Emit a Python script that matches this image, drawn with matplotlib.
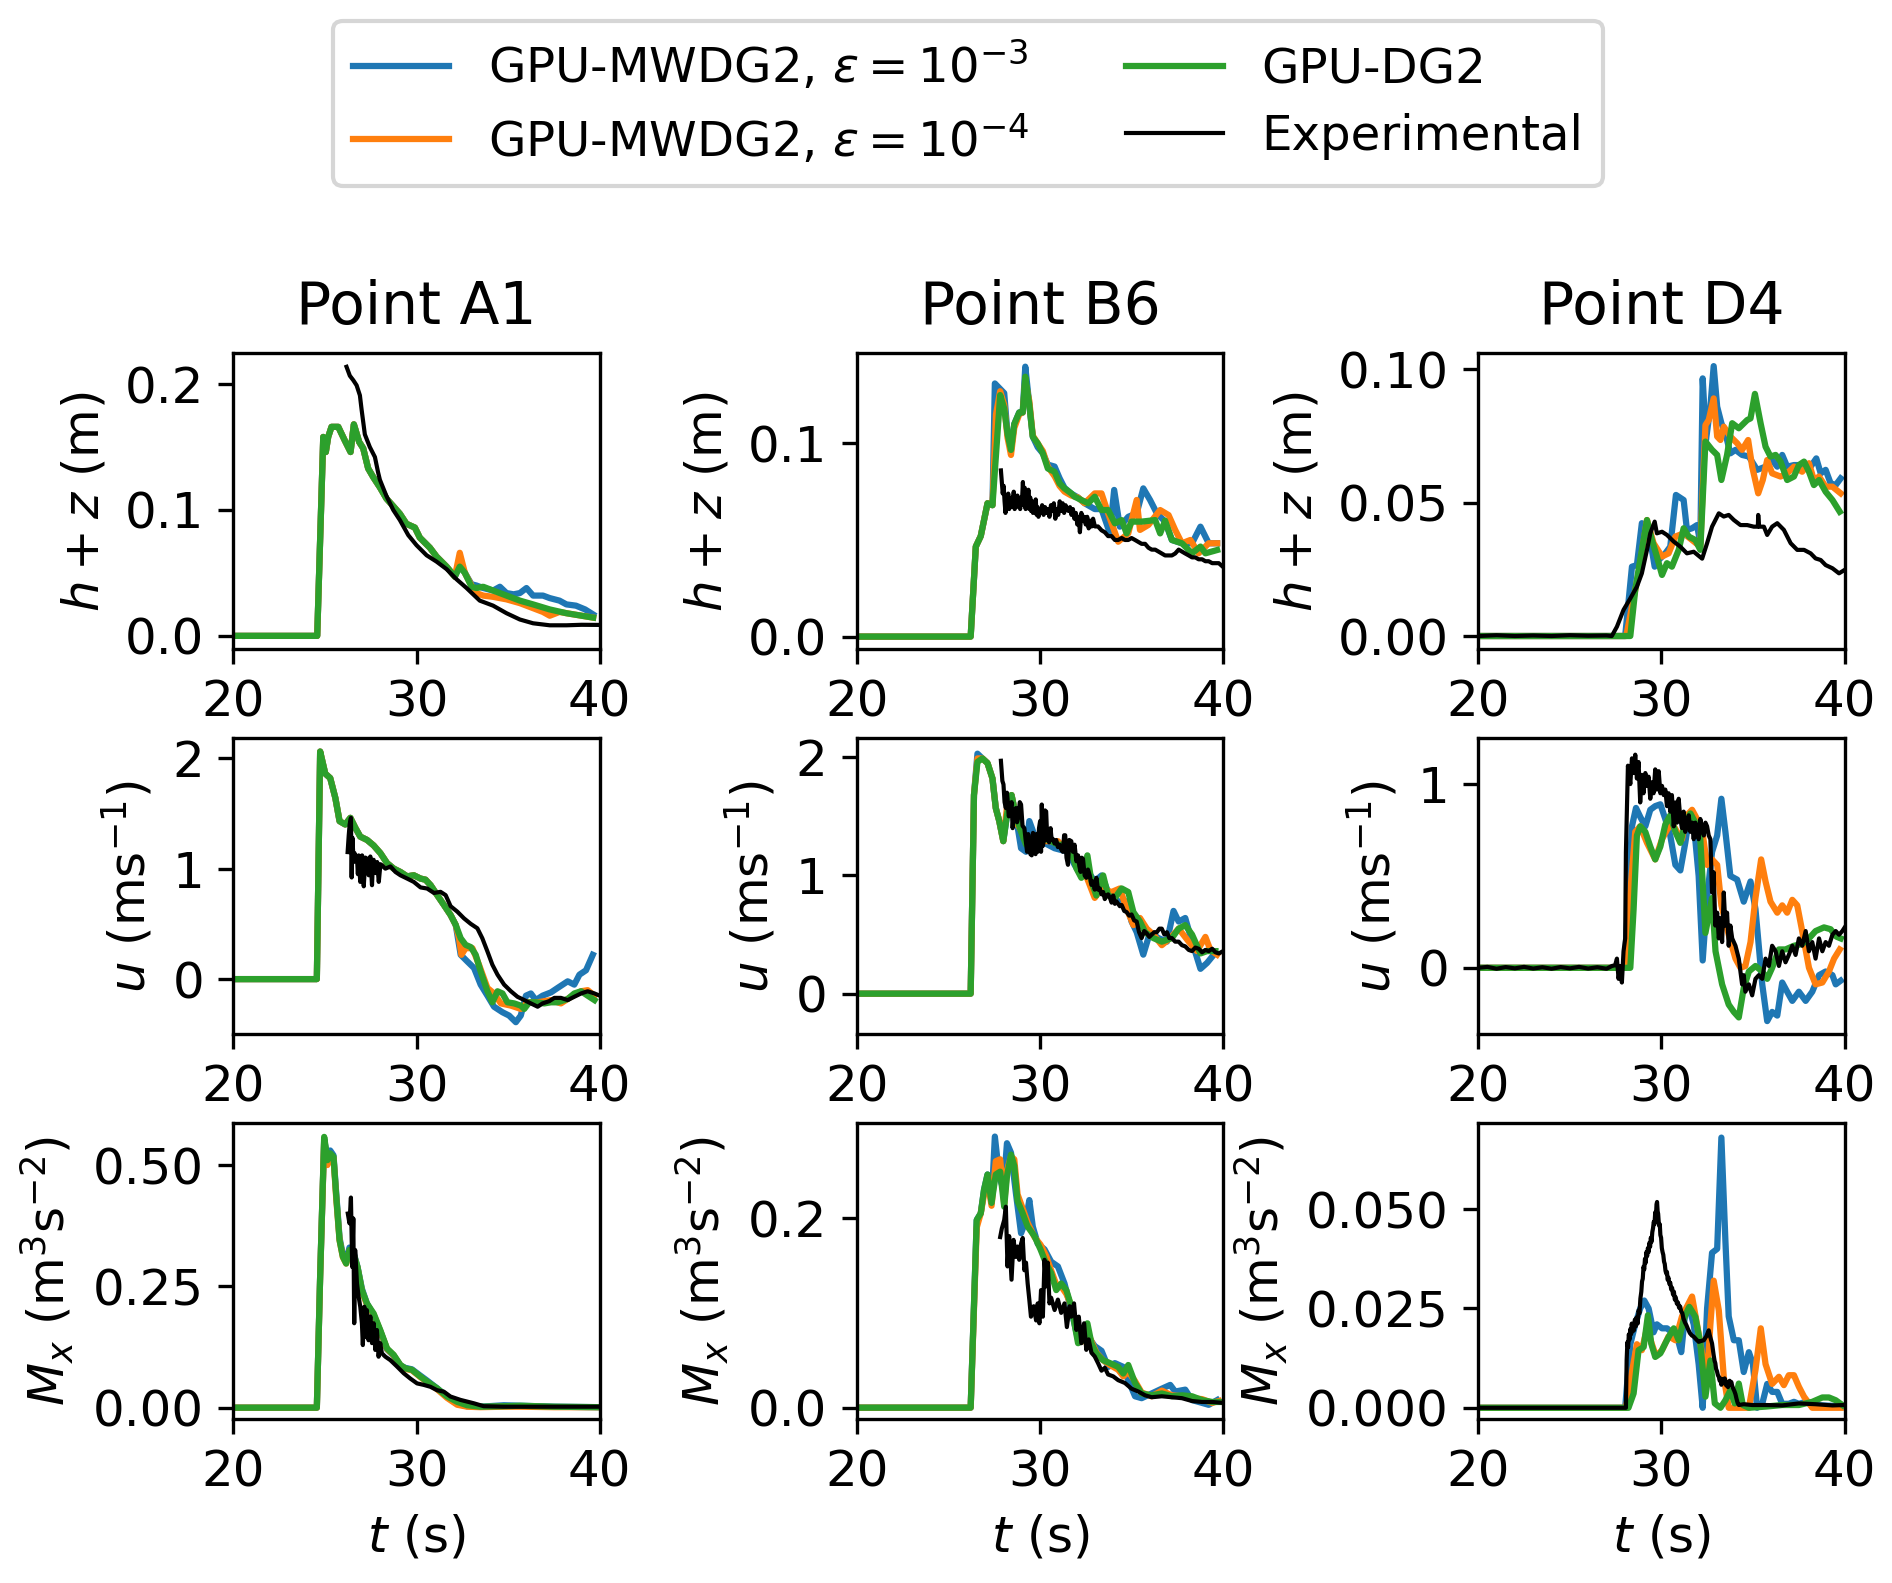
import matplotlib
matplotlib.use("Agg")
import matplotlib.pyplot as plt

plt.rcParams['font.family'] = ['DejaVu Sans']
plt.rcParams['mathtext.fontset'] = 'dejavusans'

C_MW3 = '#1f77b4'
C_MW4 = '#ff7f0e'
C_DG2 = '#2ca02c'
C_EXP = 'black'

LABELS = ['GPU-MWDG2, $\\epsilon = 10^{-3}$', 'GPU-MWDG2, $\\epsilon = 10^{-4}$', 'GPU-DG2', 'Experimental']
TITLES = ['Point A1', 'Point B6', 'Point D4']
YLABELS = ['$h + z$ (m)', '$u$ (ms$^{-1}$)', '$M_x$ (m$^3$s$^{-2}$)']
XLABEL = '$t$ (s)'
XTICKS = [20, 30, 40]

# ---------------- Point A1, h+z ----------------
A1_H_HEAD = [(20, 0), (24.58, 0), (24.91, 0.158), (25.05, 0.146), (25.18, 0.158), (25.36, 0.166), (25.73, 0.166),
             (26.09, 0.155), (26.4, 0.146), (26.58, 0.168), (26.87, 0.154), (27.09, 0.149), (27.36, 0.133),
             (27.64, 0.126), (28.0, 0.118), (28.36, 0.109), (28.73, 0.103), (29.09, 0.097), (29.45, 0.089),
             (29.91, 0.086), (30.18, 0.078), (30.73, 0.070), (31.09, 0.063), (31.64, 0.055), (32.09, 0.047)]
A1_H_MW3 = A1_H_HEAD + [(32.36, 0.057), (32.64, 0.050), (33.0, 0.041), (33.27, 0.040), (33.64, 0.038), (34.18, 0.036),
                        (34.55, 0.039), (34.91, 0.034), (35.3, 0.033), (35.64, 0.034), (36.0, 0.038), (36.36, 0.032),
                        (36.9, 0.032), (37.27, 0.030), (37.8, 0.028), (38.18, 0.025), (38.7, 0.024), (39.2, 0.021),
                        (39.64, 0.017)]
A1_H_MW4 = A1_H_HEAD + [(32.36, 0.066), (32.64, 0.050), (33.0, 0.040), (33.27, 0.034), (33.64, 0.032), (34.18, 0.031),
                        (34.91, 0.029), (35.64, 0.026), (36.36, 0.022), (36.9, 0.019), (37.27, 0.016), (37.8, 0.019),
                        (38.18, 0.018), (39.64, 0.0145)]
A1_H_DG2 = A1_H_HEAD + [(32.36, 0.055), (32.64, 0.050), (33.0, 0.039), (33.27, 0.038), (33.64, 0.039), (34.18, 0.036),
                        (34.91, 0.032), (35.64, 0.028), (36.36, 0.025), (37.27, 0.021), (38.18, 0.018), (39.64, 0.0145)]
A1_H_EXP = [(26.18, 0.2137), (26.36, 0.2066), (26.55, 0.203), (26.73, 0.199), (26.91, 0.191), (27.0, 0.18),
            (27.18, 0.16), (27.45, 0.150), (27.73, 0.142), (27.9, 0.13), (28.0, 0.124), (28.36, 0.111), (28.73, 0.100),
            (29.09, 0.092), (29.55, 0.080), (30.0, 0.072), (30.55, 0.064), (31.09, 0.059), (31.64, 0.053),
            (32.18, 0.045), (32.73, 0.038), (33.45, 0.028), (34.18, 0.024), (34.91, 0.018), (35.64, 0.013),
            (36.36, 0.010), (37.27, 0.0084), (38.18, 0.0084), (39.0, 0.0088), (40.0, 0.0087)]

# ---------------- Point B6, h+z ----------------
B6_H_HEAD = [(20, 0), (26.22, 0), (26.5, 0.0466), (26.77, 0.052), (27.14, 0.069), (27.41, 0.068)]
B6_H_MW3 = B6_H_HEAD + [(27.54, 0.131), (28.05, 0.126), (28.23, 0.105), (28.42, 0.0966), (28.6, 0.110), (28.87, 0.116),
                        (29.06, 0.116), (29.2, 0.1397), (29.42, 0.120), (29.61, 0.1034), (29.88, 0.098),
                        (30.16, 0.0948), (30.43, 0.089), (30.8, 0.088), (31.07, 0.082), (31.34, 0.077), (31.71, 0.074),
                        (32.08, 0.072), (32.44, 0.069), (32.99, 0.066), (33.36, 0.066), (33.82, 0.0534),
                        (34.05, 0.0759), (34.36, 0.0569), (34.82, 0.062), (35.28, 0.0638), (35.64, 0.0767),
                        (36.01, 0.0707), (36.38, 0.0638), (36.83, 0.0595), (37.2, 0.050), (37.75, 0.0483),
                        (38.3, 0.0483), (38.76, 0.0569), (39.21, 0.0483), (39.67, 0.0483)]
B6_H_MW4 = B6_H_HEAD + [(27.6, 0.115), (27.83, 0.127), (28.05, 0.12), (28.23, 0.103), (28.42, 0.094), (28.6, 0.108),
                        (28.87, 0.115), (29.06, 0.116), (29.2, 0.132), (29.42, 0.122), (29.61, 0.104), (29.88, 0.1),
                        (30.16, 0.096), (30.43, 0.088), (30.8, 0.083), (31.07, 0.078), (31.34, 0.075), (31.71, 0.073),
                        (32.08, 0.072), (32.44, 0.069), (32.99, 0.0741), (33.36, 0.0741), (33.72, 0.0638),
                        (34.27, 0.0491), (34.82, 0.0534), (35.28, 0.0707), (35.46, 0.0552), (35.92, 0.0578),
                        (36.56, 0.0655), (37.02, 0.0629), (37.38, 0.0552), (37.75, 0.0483), (38.21, 0.050),
                        (38.66, 0.0431), (39.21, 0.0483), (39.67, 0.0483)]
B6_H_DG2 = B6_H_HEAD + [(27.83, 0.125), (28.05, 0.118), (28.23, 0.105), (28.42, 0.0966), (28.6, 0.110), (28.87, 0.116),
                        (29.06, 0.116), (29.2, 0.1345), (29.42, 0.120), (29.61, 0.1034), (29.88, 0.1), (30.16, 0.0948),
                        (30.43, 0.087), (30.8, 0.0853), (31.07, 0.0793), (31.34, 0.0767), (31.71, 0.0741),
                        (31.89, 0.0724), (32.26, 0.0707), (32.63, 0.0690), (32.99, 0.0724), (33.36, 0.0655),
                        (33.72, 0.0655), (34.09, 0.0586), (34.46, 0.0603), (34.73, 0.0534), (35.0, 0.0595),
                        (35.55, 0.0595), (36.29, 0.0603), (36.56, 0.0534), (36.83, 0.060), (37.2, 0.050),
                        (37.75, 0.0483), (38.3, 0.0431), (38.76, 0.0466), (39.03, 0.0431), (39.67, 0.0448)]
B6_H_EXP = [(27.87, 0.086), (27.92, 0.080), (27.97, 0.074), (28.02, 0.078), (28.07, 0.070), (28.12, 0.064),
            (28.17, 0.072), (28.22, 0.068), (28.27, 0.074), (28.32, 0.066), (28.37, 0.070), (28.42, 0.067),
            (28.47, 0.072), (28.52, 0.069), (28.57, 0.075), (28.62, 0.066), (28.67, 0.071), (28.72, 0.067),
            (28.77, 0.073), (28.82, 0.068), (28.87, 0.070), (28.92, 0.066), (28.97, 0.072), (29.02, 0.070),
            (29.07, 0.080), (29.12, 0.068), (29.17, 0.077), (29.22, 0.066), (29.27, 0.074), (29.32, 0.068),
            (29.37, 0.076), (29.42, 0.066), (29.47, 0.072), (29.52, 0.065), (29.57, 0.070), (29.62, 0.064),
            (29.67, 0.068), (29.72, 0.066), (29.77, 0.071), (29.82, 0.063), (29.87, 0.067), (29.92, 0.062),
            (29.97, 0.066), (30.05, 0.064), (30.12, 0.068), (30.2, 0.063), (30.28, 0.067), (30.36, 0.064),
            (30.44, 0.066), (30.52, 0.062), (30.6, 0.068), (30.68, 0.065), (30.76, 0.069), (30.84, 0.061),
            (30.92, 0.066), (31.0, 0.063), (31.08, 0.070), (31.16, 0.065), (31.24, 0.069), (31.32, 0.064),
            (31.4, 0.068), (31.48, 0.066), (31.56, 0.065), (31.64, 0.067), (31.72, 0.063), (31.8, 0.066),
            (31.88, 0.061), (31.96, 0.064), (32.04, 0.058), (32.12, 0.062), (32.18, 0.054), (32.26, 0.064),
            (32.34, 0.060), (32.42, 0.062), (32.5, 0.058), (32.58, 0.062), (32.66, 0.056), (32.74, 0.060),
            (32.82, 0.057), (32.9, 0.061), (33.0, 0.057), (33.17, 0.057), (33.36, 0.055), (33.54, 0.054),
            (33.72, 0.052), (33.91, 0.052), (34.09, 0.050), (34.27, 0.050), (34.46, 0.051), (34.64, 0.050),
            (34.82, 0.050), (35.0, 0.051), (35.19, 0.050), (35.37, 0.049), (35.55, 0.048), (35.74, 0.048),
            (35.92, 0.046), (36.1, 0.045), (36.29, 0.045), (36.47, 0.044), (36.65, 0.043), (36.83, 0.042),
            (37.02, 0.042), (37.2, 0.042), (37.38, 0.043), (37.57, 0.045), (37.75, 0.044), (37.93, 0.043),
            (38.12, 0.042), (38.3, 0.041), (38.48, 0.041), (38.66, 0.040), (38.85, 0.040), (39.03, 0.039),
            (39.21, 0.039), (39.4, 0.038), (39.58, 0.038), (39.76, 0.038), (40.0, 0.036)]

# ---------------- Point D4, h+z ----------------
D4_H_MW3 = [(20, 0), (28.02, 0), (28.39, 0.026), (28.66, 0.0266), (28.93, 0.0423), (29.12, 0.041), (29.39, 0.036),
            (29.63, 0.026), (29.85, 0.0285), (30.21, 0.031), (30.48, 0.0335), (30.79, 0.0529), (31.21, 0.051),
            (31.39, 0.0398), (31.67, 0.0404), (31.94, 0.0416), (32.12, 0.0348), (32.25, 0.0966), (32.43, 0.0735),
            (32.67, 0.086), (32.85, 0.1012), (33.04, 0.086), (33.27, 0.0798), (33.49, 0.076), (33.76, 0.0685),
            (34.04, 0.0698), (34.4, 0.0679), (34.77, 0.0673), (35.22, 0.0623), (35.68, 0.0635), (36.04, 0.066),
            (36.32, 0.0635), (36.59, 0.0679), (36.86, 0.0635), (37.23, 0.0641), (37.68, 0.0641), (38.14, 0.0635),
            (38.45, 0.0666), (38.69, 0.061), (38.96, 0.0623), (39.23, 0.0573), (39.51, 0.0566), (39.78, 0.0591)]
D4_H_MW4 = [(20, 0), (28.08, 0), (28.39, 0.011), (28.75, 0.0235), (29.21, 0.0435), (29.57, 0.0348), (30.03, 0.0298),
            (30.39, 0.031), (30.76, 0.0373), (31.21, 0.0385), (31.67, 0.036), (32.12, 0.0335), (32.4, 0.0791),
            (32.58, 0.081), (32.85, 0.0891), (33.04, 0.0748), (33.22, 0.0735), (33.4, 0.0785), (33.76, 0.0748),
            (34.13, 0.0723), (34.4, 0.0698), (34.73, 0.0735), (34.95, 0.0635), (35.28, 0.0535), (35.53, 0.0585),
            (35.77, 0.066), (36.04, 0.061), (36.5, 0.0598), (36.86, 0.061), (37.23, 0.0635), (37.68, 0.0616),
            (38.05, 0.0648), (38.32, 0.0585), (38.6, 0.0598), (38.96, 0.056), (39.33, 0.056), (39.78, 0.0535)]
D4_H_DG2 = [(20, 0), (28.3, 0), (28.57, 0.0173), (28.9, 0.031), (29.21, 0.0435), (29.48, 0.036), (29.75, 0.0298),
            (30.03, 0.0229), (30.3, 0.0273), (30.57, 0.026), (30.94, 0.0323), (31.21, 0.0404), (31.49, 0.0373),
            (31.85, 0.036), (32.12, 0.0323), (32.4, 0.0729), (32.76, 0.0698), (33.04, 0.0679), (33.27, 0.0585),
            (33.58, 0.0679), (33.86, 0.0798), (34.22, 0.0779), (34.68, 0.081), (34.86, 0.0816), (35.1, 0.0908),
            (35.41, 0.0798), (35.68, 0.071), (35.95, 0.0673), (36.23, 0.0679), (36.5, 0.0654), (36.86, 0.0585),
            (37.23, 0.0598), (37.5, 0.0641), (37.78, 0.0654), (38.05, 0.0616), (38.32, 0.0566), (38.6, 0.0585),
            (38.96, 0.0541), (39.33, 0.051), (39.73, 0.0466)]
D4_H_EXP = [(20, 0), (21, 0.0003), (22, 0), (23, 0.0002), (24, 0), (25, 0.0003), (26, 0.0001), (27, 0.0002),
            (27.29, 0), (27.57, 0.0035), (27.93, 0.0098), (28.3, 0.0141), (28.66, 0.0185), (28.93, 0.0235),
            (29.21, 0.0323), (29.39, 0.0385), (29.63, 0.0429), (29.75, 0.0385), (30.03, 0.0391), (30.3, 0.0379),
            (30.67, 0.0354), (31.03, 0.0335), (31.39, 0.031), (31.76, 0.0316), (32.22, 0.029), (32.49, 0.0348),
            (32.76, 0.041), (33.13, 0.046), (33.4, 0.0448), (33.67, 0.0454), (33.95, 0.0435), (34.31, 0.0416),
            (34.68, 0.0416), (35.04, 0.041), (35.26, 0.041), (35.28, 0.0454), (35.33, 0.041), (35.59, 0.041),
            (35.77, 0.0379), (36.04, 0.041), (36.32, 0.0423), (36.68, 0.0398), (37.05, 0.0348), (37.41, 0.0323),
            (37.78, 0.0323), (38.14, 0.031), (38.41, 0.0291), (38.69, 0.0285), (38.96, 0.0266), (39.33, 0.0254),
            (39.69, 0.0235), (40.0, 0.0248)]

# ---------------- Point A1, u ----------------
A1_U_HEAD = [(20, 0), (24.56, 0), (24.74, 2.06), (25.02, 1.86), (25.29, 1.82), (25.57, 1.64), (25.8, 1.43),
             (26.11, 1.40), (26.39, 1.46), (26.66, 1.37), (26.93, 1.29), (27.3, 1.26), (27.66, 1.21), (28.03, 1.14),
             (28.39, 1.05), (28.76, 1.0), (29.12, 0.97), (29.49, 0.93), (29.85, 0.94), (30.22, 0.91), (30.49, 0.90),
             (30.77, 0.85), (31.13, 0.76), (31.5, 0.67), (31.86, 0.58), (32.14, 0.49)]
A1_U_MW3 = A1_U_HEAD + [(32.41, 0.22), (32.77, 0.16), (33.14, 0.10), (33.5, -0.05), (33.87, -0.15), (34.23, -0.25),
                        (34.69, -0.30), (35.05, -0.33), (35.42, -0.39), (35.69, -0.33), (35.97, -0.15), (36.24, -0.13),
                        (36.51, -0.19), (36.88, -0.15), (37.34, -0.12), (37.7, -0.08), (38.25, -0.02), (38.61, -0.05),
                        (38.89, 0.04), (39.25, 0.08), (39.62, 0.22)]
A1_U_MW4 = A1_U_HEAD + [(32.32, 0.37), (32.45, 0.22), (32.68, 0.28), (33.05, 0.28), (33.41, 0.13), (33.87, -0.08),
                        (34.23, -0.13), (34.6, -0.22), (35.15, -0.24), (35.69, -0.27), (36.06, -0.21), (36.61, -0.21),
                        (37.34, -0.19), (37.88, -0.22), (38.43, -0.16), (38.98, -0.11), (39.34, -0.10), (39.71, -0.15)]
A1_U_DG2 = A1_U_HEAD + [(32.41, 0.37), (32.68, 0.31), (32.96, 0.29), (33.23, 0.22), (33.5, 0.07), (33.87, -0.11),
                        (34.14, -0.21), (34.42, -0.11), (34.69, -0.13), (34.96, -0.21), (35.33, -0.22), (35.69, -0.24),
                        (35.88, -0.27), (36.15, -0.21), (36.51, -0.21), (36.97, -0.22), (37.34, -0.21), (37.7, -0.21),
                        (38.25, -0.18), (38.61, -0.13), (38.98, -0.11), (39.34, -0.15), (39.71, -0.19)]
A1_U_EXP = [(26.24, 1.15), (26.3, 1.30), (26.35, 1.40), (26.42, 1.46), (26.46, 0.92), (26.5, 1.28), (26.57, 1.06),
            (26.62, 1.14), (26.66, 1.08), (26.75, 1.10), (26.8, 0.95), (26.84, 1.12), (26.93, 0.88), (26.98, 1.08),
            (27.03, 1.12), (27.08, 0.98), (27.12, 0.84), (27.21, 1.10), (27.3, 1.09), (27.39, 0.94), (27.44, 1.06),
            (27.48, 1.11), (27.57, 0.85), (27.62, 1.05), (27.66, 1.08), (27.76, 0.96), (27.85, 1.06), (27.94, 0.88),
            (28.03, 1.04), (28.12, 1.03), (28.3, 1.0), (28.58, 1.02), (28.85, 0.97), (29.12, 0.94), (29.49, 0.91),
            (29.85, 0.88), (30.22, 0.83), (30.58, 0.82), (30.95, 0.78), (31.31, 0.79), (31.59, 0.76), (31.86, 0.66),
            (32.23, 0.61), (32.59, 0.55), (32.96, 0.50), (33.32, 0.46), (33.59, 0.37), (33.87, 0.25), (34.14, 0.13),
            (34.42, 0.04), (34.78, -0.05), (35.15, -0.11), (35.51, -0.16), (35.88, -0.19), (36.24, -0.22),
            (36.61, -0.25), (36.88, -0.22), (37.24, -0.20), (37.52, -0.17), (37.88, -0.17), (38.25, -0.19),
            (38.61, -0.16), (38.98, -0.13), (39.34, -0.11), (39.71, -0.13), (40.0, -0.15)]

# ---------------- Point B6, u ----------------
B6_U_HEAD = [(20, 0), (26.22, 0), (26.4, 1.68)]
B6_U_MW3 = B6_U_HEAD + [(26.59, 2.03), (26.86, 1.99), (27.14, 1.95), (27.41, 1.82), (27.59, 1.57), (27.78, 1.46),
                        (28.0, 1.29), (28.23, 1.54), (28.45, 1.68), (28.69, 1.50), (28.97, 1.23), (29.24, 1.20),
                        (29.42, 1.46), (29.7, 1.34), (30.06, 1.29), (30.8, 1.23), (31.53, 1.20), (31.89, 1.09),
                        (32.26, 1.0), (32.63, 1.03), (32.99, 0.95), (33.36, 1.0), (33.72, 0.86), (34.27, 0.78),
                        (34.73, 0.78), (35.0, 0.61), (35.28, 0.52), (35.64, 0.33), (36.01, 0.52), (36.47, 0.47),
                        (36.93, 0.44), (37.29, 0.70), (37.57, 0.61), (37.93, 0.64), (38.3, 0.44), (38.76, 0.21),
                        (39.12, 0.26), (39.49, 0.33)]
B6_U_MW4 = B6_U_HEAD + [(26.59, 1.99), (26.86, 1.99), (27.14, 1.95), (27.41, 1.82), (27.59, 1.57), (27.78, 1.46),
                        (28.0, 1.29), (28.23, 1.62), (28.45, 1.68), (28.78, 1.43), (29.33, 1.29), (30.06, 1.29),
                        (30.98, 1.29), (31.89, 1.14), (32.44, 1.03), (32.99, 0.81), (33.36, 0.89), (33.91, 0.86),
                        (34.36, 0.89), (34.73, 0.72), (35.1, 0.58), (35.46, 0.64), (35.83, 0.55), (36.19, 0.50),
                        (36.65, 0.41), (37.11, 0.47), (37.57, 0.55), (38.12, 0.44), (38.57, 0.36), (39.03, 0.48),
                        (39.3, 0.37), (39.67, 0.33)]
B6_U_DG2 = B6_U_HEAD + [(26.59, 1.96), (26.86, 1.99), (27.14, 1.95), (27.41, 1.82), (27.59, 1.57), (27.78, 1.46),
                        (28.0, 1.29), (28.23, 1.54), (28.45, 1.68), (28.69, 1.50), (28.97, 1.37), (29.24, 1.26),
                        (29.51, 1.31), (29.88, 1.26), (30.25, 1.31), (30.61, 1.29), (30.98, 1.26), (31.34, 1.26),
                        (31.71, 1.20), (31.99, 1.06), (32.26, 0.98), (32.59, 1.17), (32.81, 0.95), (33.08, 0.83),
                        (33.45, 1.0), (33.72, 0.83), (34.09, 0.81), (34.46, 0.89), (34.82, 0.86), (35.1, 0.69),
                        (35.46, 0.61), (35.74, 0.52), (36.19, 0.47), (36.65, 0.44), (37.2, 0.47), (37.57, 0.55),
                        (37.93, 0.58), (38.3, 0.50), (38.76, 0.34), (39.12, 0.36), (39.58, 0.36)]
B6_U_EXP = [(27.87, 1.97), (27.95, 1.80), (28.01, 1.77), (28.07, 1.62), (28.14, 1.57), (28.2, 1.70), (28.23, 1.65),
            (28.3, 1.50), (28.38, 1.54), (28.45, 1.62), (28.51, 1.40), (28.58, 1.55), (28.69, 1.57), (28.75, 1.45),
            (28.82, 1.49), (28.9, 1.62), (28.97, 1.60), (29.05, 1.42), (29.15, 1.40), (29.22, 1.30), (29.3, 1.20),
            (29.36, 1.35), (29.42, 1.26), (29.48, 1.18), (29.55, 1.17), (29.62, 1.36), (29.7, 1.34), (29.76, 1.18),
            (29.82, 1.35), (29.88, 1.20), (29.95, 1.40), (30.01, 1.46), (30.06, 1.20), (30.1, 1.60), (30.16, 1.25),
            (30.21, 1.29), (30.28, 1.55), (30.34, 1.54), (30.4, 1.30), (30.43, 1.34), (30.5, 1.28), (30.58, 1.40),
            (30.64, 1.30), (30.7, 1.31), (30.8, 1.27), (30.89, 1.30), (30.98, 1.24), (31.07, 1.26), (31.16, 1.22),
            (31.25, 1.20), (31.32, 1.34), (31.38, 1.34), (31.45, 1.15), (31.53, 1.09), (31.6, 1.30), (31.71, 1.29),
            (31.8, 1.20), (31.89, 1.26), (31.99, 1.12), (32.08, 1.17), (32.15, 1.08), (32.22, 1.03), (32.28, 1.15),
            (32.35, 1.14), (32.44, 1.0), (32.53, 0.98), (32.62, 1.05), (32.72, 1.0), (32.81, 0.92), (32.9, 0.95),
            (32.99, 0.88), (33.08, 0.98), (33.17, 0.88), (33.27, 0.89), (33.36, 0.84), (33.45, 0.86), (33.54, 0.80),
            (33.63, 0.83), (33.72, 0.84), (33.82, 0.81), (33.91, 0.77), (34.0, 0.83), (34.09, 0.76), (34.18, 0.78),
            (34.36, 0.74), (34.46, 0.75), (34.6, 0.70), (34.73, 0.69), (34.87, 0.66), (35.0, 0.67), (35.14, 0.62),
            (35.28, 0.61), (35.41, 0.52), (35.55, 0.47), (35.69, 0.53), (35.83, 0.51), (35.97, 0.48), (36.1, 0.50),
            (36.24, 0.52), (36.38, 0.52), (36.52, 0.55), (36.65, 0.55), (36.79, 0.50), (36.93, 0.52), (37.06, 0.47),
            (37.2, 0.47), (37.38, 0.44), (37.57, 0.44), (37.75, 0.41), (37.93, 0.40), (38.12, 0.37), (38.3, 0.36),
            (38.48, 0.39), (38.66, 0.38), (38.85, 0.35), (39.03, 0.37), (39.21, 0.36), (39.4, 0.38), (39.58, 0.35),
            (39.76, 0.34), (40.0, 0.36)]

# ---------------- Point D4, u ----------------
D4_U_MW3 = [(20, 0), (27.99, 0), (28.21, 0.41), (28.39, 0.77), (28.61, 0.87), (28.85, 0.82), (29.12, 0.77),
            (29.39, 0.86), (29.66, 0.88), (29.94, 0.89), (30.21, 0.81), (30.48, 0.72), (30.76, 0.56), (31.03, 0.53),
            (31.3, 0.68), (31.53, 0.83), (31.76, 0.79), (32.03, 0.50), (32.25, 0.04), (32.49, 0.38), (32.76, 0.63),
            (33.04, 0.72), (33.27, 0.92), (33.49, 0.74), (33.76, 0.50), (34.13, 0.48), (34.49, 0.36), (34.86, 0.47),
            (35.13, 0.32), (35.5, -0.09), (35.77, -0.29), (36.04, -0.24), (36.32, -0.26), (36.59, -0.08),
            (36.86, -0.13), (37.14, -0.18), (37.5, -0.13), (37.87, -0.18), (38.23, -0.13), (38.6, -0.04),
            (38.96, -0.02), (39.33, -0.04), (39.51, -0.09), (39.78, -0.07)]
D4_U_MW4 = [(20, 0), (28.02, 0), (28.3, 0.41), (28.57, 0.74), (28.84, 0.77), (29.21, 0.68), (29.66, 0.59),
            (30.03, 0.70), (30.3, 0.75), (30.57, 0.79), (30.85, 0.74), (31.12, 0.70), (31.39, 0.83), (31.67, 0.86),
            (31.94, 0.81), (32.22, 0.75), (32.49, 0.56), (32.76, 0.59), (33.04, 0.56), (33.27, 0.34), (33.67, 0.18),
            (34.04, 0.05), (34.31, 0.0), (34.58, 0.01), (34.86, 0.14), (35.13, 0.38), (35.44, 0.59), (35.68, 0.47),
            (35.95, 0.36), (36.32, 0.30), (36.59, 0.34), (36.86, 0.30), (37.14, 0.37), (37.41, 0.34), (37.68, 0.20),
            (38.05, 0.0), (38.41, -0.09), (38.78, -0.08), (39.14, -0.02), (39.42, 0.05), (39.73, 0.10)]
D4_U_DG2 = [(20, 0), (28.3, 0), (28.48, 0.32), (28.66, 0.72), (28.84, 0.77), (29.12, 0.74), (29.39, 0.66),
            (29.66, 0.59), (29.94, 0.66), (30.21, 0.78), (30.48, 0.83), (30.76, 0.74), (31.03, 0.68), (31.3, 0.79),
            (31.58, 0.84), (31.85, 0.79), (32.12, 0.70), (32.4, 0.19), (32.76, 0.38), (32.95, 0.09), (33.31, -0.09),
            (33.67, -0.20), (33.95, -0.24), (34.22, -0.27), (34.49, -0.11), (34.77, -0.02), (35.13, 0.01),
            (35.5, -0.02), (35.77, -0.06), (36.04, 0.0), (36.41, 0.10), (36.77, 0.10), (37.23, 0.12), (37.68, 0.13),
            (38.05, 0.16), (38.41, 0.20), (38.87, 0.22), (39.23, 0.21), (39.54, 0.17), (39.78, 0.16)]
D4_U_EXP = [(20, 0.0), (20.5, 0.005), (21, -0.005), (21.5, 0.004), (22, -0.003), (22.5, 0.005), (23, -0.004),
            (23.5, 0.003), (24, -0.005), (24.5, 0.004), (25, -0.003), (25.5, 0.005), (26, -0.004), (26.5, 0.003),
            (27, -0.005), (27.3, 0.01), (27.47, 0.014), (27.57, 0.05), (27.66, -0.06), (27.75, 0.01), (27.84, -0.08),
            (27.93, 0.09), (28.02, 0.16), (28.06, 0.63), (28.17, 1.10), (28.3, 1.0), (28.39, 1.14), (28.48, 1.06),
            (28.57, 1.16), (28.66, 1.03), (28.75, 1.12), (28.84, 0.90), (28.93, 1.05), (29.02, 0.95), (29.12, 1.06),
            (29.21, 0.99), (29.3, 1.04), (29.39, 0.92), (29.48, 1.01), (29.57, 0.95), (29.66, 1.08), (29.75, 0.97),
            (29.85, 1.07), (29.94, 0.95), (30.03, 0.99), (30.12, 0.94), (30.21, 0.97), (30.3, 0.88), (30.39, 0.95),
            (30.48, 0.85), (30.57, 0.94), (30.67, 0.77), (30.76, 0.90), (30.85, 0.79), (30.94, 0.92), (31.03, 0.81),
            (31.12, 0.76), (31.21, 0.85), (31.3, 0.74), (31.39, 0.79), (31.49, 0.83), (31.58, 0.74), (31.67, 0.79),
            (31.76, 0.70), (31.85, 0.79), (31.94, 0.76), (32.03, 0.70), (32.12, 0.81), (32.22, 0.76), (32.31, 0.72),
            (32.4, 0.79), (32.49, 0.77), (32.58, 0.72), (32.67, 0.70), (32.76, 0.41), (32.85, 0.52), (32.94, 0.23),
            (33.04, 0.30), (33.13, 0.16), (33.22, 0.27), (33.31, 0.14), (33.4, 0.41), (33.49, 0.23), (33.58, 0.30),
            (33.67, 0.12), (33.76, 0.23), (33.86, 0.16), (34.04, 0.12), (34.22, 0.05), (34.4, -0.09), (34.49, -0.04),
            (34.58, -0.13), (34.77, -0.09), (34.95, -0.15), (35.13, -0.06), (35.31, -0.04), (35.5, -0.06),
            (35.68, 0.05), (35.86, 0.01), (36.04, 0.12), (36.23, 0.09), (36.41, 0.01), (36.59, 0.09), (36.77, 0.03),
            (36.95, 0.07), (37.14, 0.12), (37.32, 0.07), (37.5, 0.16), (37.68, 0.12), (37.87, 0.20), (38.05, 0.09),
            (38.23, 0.14), (38.41, 0.05), (38.6, 0.16), (38.78, 0.09), (38.96, 0.14), (39.14, 0.12), (39.33, 0.18),
            (39.51, 0.20), (39.69, 0.18), (39.87, 0.20), (40.0, 0.22)]

# ---------------- Point A1, Mx ----------------
A1_M_DG2 = [(20, 0), (24.56, 0), (24.74, 0.27), (24.96, 0.558), (25.14, 0.51), (25.29, 0.524), (25.47, 0.517),
            (25.62, 0.435), (25.8, 0.345), (25.98, 0.311), (26.16, 0.297), (26.34, 0.325), (26.56, 0.318),
            (26.78, 0.29), (27.02, 0.242), (27.29, 0.215), (27.66, 0.194), (28.02, 0.16), (28.39, 0.122),
            (28.75, 0.109), (29.12, 0.088), (29.39, 0.081), (29.75, 0.078), (30.21, 0.064), (30.57, 0.054),
            (31.12, 0.040), (31.67, 0.023), (32.22, 0.012), (32.76, 0.005), (33.49, 0.002), (34.77, 0.003),
            (35.68, 0.004), (37.5, 0.002), (40.0, 0.001)]
A1_M_MW3 = [(20, 0), (24.56, 0), (24.74, 0.27), (24.96, 0.552), (25.14, 0.515), (25.29, 0.53), (25.47, 0.52),
            (25.62, 0.44), (25.8, 0.35), (25.98, 0.315), (26.16, 0.30), (26.34, 0.33), (26.56, 0.32), (26.78, 0.29),
            (27.02, 0.245), (27.29, 0.215), (27.66, 0.19), (28.02, 0.158), (28.39, 0.12), (28.75, 0.107),
            (29.12, 0.087), (29.39, 0.082), (29.75, 0.079), (30.21, 0.066), (30.57, 0.056), (31.12, 0.040),
            (31.67, 0.022), (32.22, 0.008), (32.76, 0.003), (33.49, 0.002), (34.77, 0.005), (35.68, 0.004),
            (37.5, 0.002), (40.0, 0.001)]
A1_M_MW4 = [(20, 0), (24.56, 0), (24.74, 0.27), (24.96, 0.55), (25.14, 0.50), (25.29, 0.52), (25.47, 0.515),
            (25.62, 0.43), (25.8, 0.345), (25.98, 0.31), (26.16, 0.297), (26.34, 0.322), (26.56, 0.316),
            (26.78, 0.288), (27.02, 0.24), (27.29, 0.213), (27.66, 0.192), (28.02, 0.158), (28.39, 0.121),
            (28.75, 0.108), (29.12, 0.087), (29.39, 0.08), (29.75, 0.077), (30.21, 0.063), (30.57, 0.053),
            (31.12, 0.038), (31.67, 0.02), (32.22, 0.006), (32.76, 0.002), (33.49, 0.001), (34.77, 0.002),
            (35.68, 0.002), (37.5, 0.001), (40.0, 0.001)]
A1_M_EXP = [(26.25, 0.40), (26.34, 0.38), (26.42, 0.433), (26.49, 0.29), (26.55, 0.39), (26.6, 0.174),
            (26.65, 0.325), (26.75, 0.256), (26.84, 0.229), (26.93, 0.208), (27.02, 0.174), (27.07, 0.129),
            (27.15, 0.208), (27.22, 0.146), (27.29, 0.201), (27.38, 0.139), (27.48, 0.188), (27.57, 0.133),
            (27.66, 0.174), (27.75, 0.119), (27.84, 0.16), (27.93, 0.105), (28.02, 0.133), (28.11, 0.112),
            (28.3, 0.105), (28.57, 0.098), (28.93, 0.085), (29.3, 0.071), (29.66, 0.060), (30.03, 0.050),
            (30.39, 0.047), (30.76, 0.043), (31.12, 0.036), (31.49, 0.033), (31.85, 0.023), (32.4, 0.016),
            (33.13, 0.009), (33.67, 0.003), (34.77, 0.002), (37.5, 0.002), (40.0, 0.002)]

# ---------------- Point B6, Mx ----------------
B6_M_MW3 = [(20, 0), (26.22, 0), (26.55, 0.198), (26.77, 0.205), (26.95, 0.23), (27.14, 0.246), (27.36, 0.216),
            (27.54, 0.286), (27.78, 0.244), (28.01, 0.23), (28.2, 0.279), (28.42, 0.269), (28.69, 0.226),
            (28.97, 0.184), (29.24, 0.198), (29.42, 0.219), (29.61, 0.191), (29.88, 0.173), (30.25, 0.167),
            (30.61, 0.154), (30.98, 0.149), (31.34, 0.131), (31.71, 0.103), (32.08, 0.072), (32.63, 0.075),
            (32.99, 0.065), (33.36, 0.06), (33.72, 0.043), (34.09, 0.047), (34.55, 0.043), (34.82, 0.029),
            (35.19, 0.012), (35.55, 0.01), (36.1, 0.015), (36.65, 0.02), (37.11, 0.024), (37.38, 0.017),
            (37.93, 0.019), (38.3, 0.008), (38.85, 0.005), (39.21, 0.003), (39.67, 0.008)]
B6_M_MW4 = [(20, 0), (26.22, 0), (26.55, 0.19), (26.77, 0.205), (26.95, 0.225), (27.14, 0.24), (27.36, 0.213),
            (27.59, 0.26), (27.83, 0.262), (28.05, 0.215), (28.2, 0.25), (28.42, 0.265), (28.6, 0.262),
            (28.78, 0.225), (29.06, 0.21), (29.33, 0.195), (29.7, 0.18), (30.03, 0.172), (30.34, 0.16),
            (30.61, 0.145), (30.89, 0.13), (31.16, 0.128), (31.44, 0.12), (31.71, 0.108), (32.08, 0.075),
            (32.35, 0.07), (32.59, 0.08), (32.81, 0.07), (33.08, 0.058), (33.45, 0.05), (33.82, 0.045),
            (34.27, 0.04), (34.55, 0.033), (34.82, 0.038), (35.19, 0.028), (35.55, 0.016), (36.1, 0.012),
            (36.65, 0.018), (37.2, 0.013), (37.75, 0.012), (38.3, 0.01), (38.85, 0.009), (39.4, 0.005),
            (39.76, 0.007)]
B6_M_DG2 = [(20, 0), (26.22, 0), (26.55, 0.198), (26.77, 0.205), (26.95, 0.23), (27.14, 0.246), (27.36, 0.216),
            (27.59, 0.246), (27.83, 0.249), (28.05, 0.212), (28.2, 0.244), (28.42, 0.267), (28.6, 0.255),
            (28.78, 0.218), (29.06, 0.205), (29.33, 0.191), (29.7, 0.181), (30.03, 0.167), (30.34, 0.152),
            (30.61, 0.142), (30.89, 0.124), (31.16, 0.131), (31.44, 0.124), (31.71, 0.107), (32.08, 0.068),
            (32.35, 0.071), (32.59, 0.089), (32.81, 0.068), (33.08, 0.057), (33.45, 0.05), (33.82, 0.047),
            (34.27, 0.043), (34.55, 0.036), (34.82, 0.045), (35.19, 0.026), (35.55, 0.015), (36.1, 0.013),
            (36.65, 0.015), (37.2, 0.012), (37.75, 0.013), (38.3, 0.012), (38.85, 0.008), (39.4, 0.006),
            (39.76, 0.006)]
B6_M_EXP = [(27.83, 0.18), (27.92, 0.189), (28.05, 0.198), (28.14, 0.212), (28.23, 0.149), (28.32, 0.181),
            (28.45, 0.135), (28.56, 0.177), (28.69, 0.159), (28.78, 0.170), (28.87, 0.156), (28.97, 0.173),
            (29.06, 0.179), (29.15, 0.145), (29.24, 0.153), (29.33, 0.131), (29.42, 0.114), (29.51, 0.096),
            (29.66, 0.107), (29.79, 0.092), (29.88, 0.11), (29.97, 0.089), (30.06, 0.124), (30.16, 0.096),
            (30.25, 0.156), (30.34, 0.128), (30.43, 0.153), (30.52, 0.110), (30.61, 0.116), (30.8, 0.103),
            (30.98, 0.114), (31.16, 0.1), (31.34, 0.11), (31.47, 0.085), (31.62, 0.107), (31.71, 0.096),
            (31.86, 0.11), (31.99, 0.082), (32.12, 0.096), (32.26, 0.068), (32.41, 0.089), (32.53, 0.061),
            (32.66, 0.072), (32.81, 0.058), (32.99, 0.054), (33.17, 0.047), (33.36, 0.039), (33.54, 0.042),
            (33.72, 0.035), (34.0, 0.033), (34.27, 0.029), (34.64, 0.026), (35.0, 0.02), (35.37, 0.017),
            (35.74, 0.013), (36.1, 0.011), (36.65, 0.012), (37.2, 0.011), (37.75, 0.01), (38.3, 0.007),
            (38.85, 0.006), (39.4, 0.006), (40.0, 0.005)]

# ---------------- Point D4, Mx ----------------
D4_M_MW3 = [(20, 0), (28.02, 0), (28.3, 0.016), (28.57, 0.021), (28.84, 0.025), (29.06, 0.027), (29.3, 0.025),
            (29.57, 0.019), (29.75, 0.021), (30.03, 0.02), (30.3, 0.02), (30.57, 0.019), (30.85, 0.018),
            (31.08, 0.014), (31.3, 0.024), (31.52, 0.025), (31.76, 0.021), (32.03, 0.011), (32.25, 0.0),
            (32.49, 0.025), (32.76, 0.039), (33.04, 0.04), (33.27, 0.068), (33.49, 0.042), (33.67, 0.023),
            (33.95, 0.017), (34.22, 0.017), (34.49, 0.009), (34.77, 0.014), (34.99, 0.011), (35.22, 0.0),
            (35.5, 0.001), (35.77, 0.006), (36.04, 0.004), (36.32, 0.004), (36.59, 0.001), (36.95, 0.001),
            (37.23, 0.0015), (37.5, 0.001), (37.87, 0.0015), (38.23, 0.0007), (39.8, 0.0004)]
D4_M_MW4 = [(20, 0), (28.06, 0), (28.39, 0.009), (28.66, 0.016), (28.93, 0.0145), (29.21, 0.02), (29.48, 0.016),
            (29.7, 0.013), (30.03, 0.0145), (30.39, 0.018), (30.76, 0.017), (31.12, 0.023), (31.45, 0.026),
            (31.67, 0.028), (31.94, 0.021), (32.25, 0.0128), (32.49, 0.0078), (32.67, 0.021), (32.85, 0.032),
            (33.13, 0.0245), (33.4, 0.0078), (33.67, 0.0), (34.04, 0.0), (34.77, 0.0), (35.13, 0.0095),
            (35.42, 0.02), (35.68, 0.011), (36.04, 0.006), (36.41, 0.0078), (36.68, 0.0057), (36.95, 0.0082),
            (37.23, 0.0082), (37.5, 0.0053), (37.78, 0.0028), (38.23, 0.0), (38.96, 0.0), (39.78, 0.0)]
D4_M_DG2 = [(20, 0), (28.2, 0), (28.48, 0.0036), (28.75, 0.0145), (29.03, 0.0153), (29.26, 0.0233), (29.44, 0.0162),
            (29.66, 0.0128), (29.94, 0.0137), (30.21, 0.0162), (30.39, 0.0178), (30.67, 0.02), (30.94, 0.017),
            (31.26, 0.0229), (31.52, 0.0254), (31.85, 0.0229), (32.12, 0.0162), (32.4, 0.0028), (32.67, 0.0119),
            (32.91, 0.0011), (33.22, 0.0), (33.49, 0.0019), (33.76, 0.0044), (34.0, 0.0011), (34.22, 0.0061),
            (34.44, 0.0007), (34.77, 0.0), (35.68, 0.0003), (36.59, 0.0007), (37.5, 0.0007), (38.23, 0.0015),
            (38.78, 0.0026), (39.14, 0.0026), (39.51, 0.0019), (39.87, 0.0007)]
D4_M_EXP = [(20, 0), (28.06, 0), (28.1, 0.012), (28.14, 0.0165), (28.18, 0.0152), (28.22, 0.0185), (28.26, 0.0172),
            (28.3, 0.0198), (28.34, 0.0185), (28.38, 0.0212), (28.42, 0.0192), (28.46, 0.0208), (28.5, 0.0195),
            (28.55, 0.0222), (28.6, 0.0205), (28.65, 0.0228), (28.7, 0.0212), (28.75, 0.0245), (28.8, 0.0238),
            (28.85, 0.0275), (28.9, 0.0292), (28.94, 0.0318), (28.98, 0.0325), (29.02, 0.0355), (29.06, 0.0348),
            (29.1, 0.0375), (29.14, 0.0365), (29.18, 0.0392), (29.22, 0.0382), (29.26, 0.0402), (29.3, 0.0392),
            (29.34, 0.0415), (29.38, 0.0405), (29.42, 0.0428), (29.46, 0.0418), (29.5, 0.0442), (29.54, 0.0452),
            (29.58, 0.0468), (29.62, 0.0462), (29.66, 0.0492), (29.7, 0.0482), (29.73, 0.0512), (29.76, 0.0518),
            (29.79, 0.0495), (29.82, 0.0488), (29.85, 0.0468), (29.88, 0.0458), (29.91, 0.0462), (29.94, 0.0435),
            (29.98, 0.0428), (30.02, 0.0402), (30.06, 0.0392), (30.1, 0.0385), (30.14, 0.0368), (30.18, 0.0362),
            (30.22, 0.0345), (30.26, 0.0338), (30.3, 0.0342), (30.34, 0.0322), (30.38, 0.0328), (30.43, 0.0312),
            (30.48, 0.0315), (30.53, 0.0298), (30.58, 0.0302), (30.63, 0.0285), (30.68, 0.0292), (30.73, 0.0272),
            (30.78, 0.0278), (30.84, 0.0262), (30.9, 0.0265), (30.96, 0.0252), (31.02, 0.0255), (31.08, 0.0242),
            (31.14, 0.0238), (31.2, 0.0225), (31.28, 0.0215), (31.36, 0.0208), (31.45, 0.0198), (31.55, 0.0188),
            (31.66, 0.0182), (31.76, 0.0179), (31.9, 0.0172), (32.03, 0.0166), (32.15, 0.0168), (32.31, 0.017),
            (32.45, 0.018), (32.58, 0.0195), (32.64, 0.0182), (32.7, 0.0172), (32.76, 0.0162), (32.8, 0.0148),
            (32.85, 0.0132), (32.9, 0.0118), (32.94, 0.0112), (32.98, 0.0098), (33.03, 0.0092), (33.08, 0.0082),
            (33.13, 0.0078), (33.18, 0.0068), (33.22, 0.0074), (33.27, 0.0058), (33.31, 0.0066), (33.36, 0.0072),
            (33.4, 0.0062), (33.45, 0.0074), (33.49, 0.0068), (33.54, 0.0056), (33.58, 0.0064), (33.63, 0.0052),
            (33.67, 0.0058), (33.72, 0.0068), (33.76, 0.0058), (33.81, 0.0065), (33.86, 0.0055), (33.92, 0.0048),
            (33.98, 0.0042), (34.04, 0.0034), (34.1, 0.0022), (34.16, 0.0012), (34.22, 0.0007), (34.49, 0.0009),
            (34.95, 0.0007), (35.68, 0.0007), (36.59, 0.0006), (37.5, 0.0011), (38.41, 0.0009), (39.33, 0.0006),
            (40.0, 0.0007)]

PANELS = [
    [(A1_H_MW3, A1_H_MW4, A1_H_DG2, A1_H_EXP), (B6_H_MW3, B6_H_MW4, B6_H_DG2, B6_H_EXP),
     (D4_H_MW3, D4_H_MW4, D4_H_DG2, D4_H_EXP)],
    [(A1_U_MW3, A1_U_MW4, A1_U_DG2, A1_U_EXP), (B6_U_MW3, B6_U_MW4, B6_U_DG2, B6_U_EXP),
     (D4_U_MW3, D4_U_MW4, D4_U_DG2, D4_U_EXP)],
    [(A1_M_MW3, A1_M_MW4, A1_M_DG2, A1_M_EXP), (B6_M_MW3, B6_M_MW4, B6_M_DG2, B6_M_EXP),
     (D4_M_MW3, D4_M_MW4, D4_M_DG2, D4_M_EXP)],
]
YLIMS = [[(-0.0107, 0.2244), (-0.0066, 0.1466), (-0.005, 0.106)],
         [(-0.50, 2.18), (-0.344, 2.16), (-0.362, 1.249)],
         [(-0.024, 0.586), (-0.0123, 0.300), (-0.0029, 0.0716)]]
YTICKS = [[[0, 0.1, 0.2], [0, 0.1], [0, 0.05, 0.1]],
          [[0, 1, 2], [0, 1, 2], [0, 1]],
          [[0, 0.25, 0.5], [0, 0.2], [0, 0.025, 0.05]]]

COLORS = [C_MW3, C_MW4, C_DG2, C_EXP]
WIDTHS = [1.5, 1.5, 1.5, 1.0]

FS = 12
FS_LEG = 11.6
FS_TITLE = 14
fig = plt.figure(figsize=(1892 / 300, 1583 / 300), dpi=300)
LEFTS = [0.1233, 0.4528, 0.7813]
BOTTOMS = [0.5898, 0.3466, 0.1034]
W, H = 0.1937, 0.187

handles = None
for r in range(3):
    for c in range(3):
        ax = fig.add_axes([LEFTS[c], BOTTOMS[r], W, H])
        lines = []
        for k, series in enumerate(PANELS[r][c]):
            ts = [p[0] for p in series]
            vs = [p[1] for p in series]
            ln, = ax.plot(ts, vs, color=COLORS[k], lw=WIDTHS[k], label=LABELS[k])
            lines.append(ln)
        if handles is None:
            handles = lines
        ax.set_xlim(20, 40)
        ax.set_xticks(XTICKS)
        ax.set_ylim(*YLIMS[r][c])
        ax.set_yticks(YTICKS[r][c])
        ax.tick_params(labelsize=FS)
        ax.set_ylabel(YLABELS[r], fontsize=FS)
        if r == 0:
            ax.set_title(TITLES[c], fontsize=FS_TITLE, pad=7)
        if r == 2:
            ax.set_xlabel(XLABEL, fontsize=FS)

fig.legend(handles, LABELS, loc='upper center', bbox_to_anchor=(0.5116, 0.987), ncol=2,
           fontsize=FS_LEG, borderaxespad=0, labelspacing=0.4)

fig.savefig('out.png', dpi=300)
